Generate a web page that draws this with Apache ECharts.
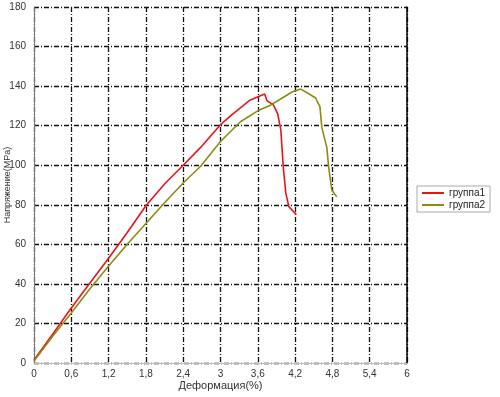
<!DOCTYPE html>
<html>
<head>
<meta charset="utf-8">
<script src="https://cdn.jsdelivr.net/npm/echarts@6/dist/echarts.min.js"></script>
<style>
  html, body { margin: 0; padding: 0; background: #fff; }
  #chart { width: 500px; height: 397px; }
</style>
</head>
<body>
<div id="chart"></div>
<script>
// данные
const seriesNames = ['группа1', 'группа2'];
const xTickLabels = ['0', '0,6', '1,2', '1,8', '2,4', '3', '3,6', '4,2', '4,8', '5,4', '6'];

const group1 = [
  [0, 1.5], [0.3, 14.5], [0.6, 27.8], [0.9, 40.5], [1.2, 53], [1.5, 66], [1.8, 79.5],
  [2.1, 90.5], [2.4, 100], [2.68, 109], [3.0, 120.5], [3.2, 126], [3.48, 133], [3.71, 136],
  [3.75, 132.5], [3.85, 130.5], [3.92, 126], [3.97, 118], [4.01, 99], [4.05, 86],
  [4.1, 79], [4.22, 75]
];
const group2 = [
  [0, 1], [0.3, 13.5], [0.6, 25.3], [0.9, 37.5], [1.2, 49], [1.5, 60], [1.8, 70.5],
  [2.1, 81], [2.4, 91], [2.68, 99.5], [3.0, 112], [3.32, 122], [3.6, 127.5], [3.81, 130.5],
  [4.02, 134.5], [4.15, 137], [4.29, 138.5], [4.4, 136.5], [4.53, 134], [4.6, 129.5],
  [4.63, 119], [4.71, 109], [4.74, 99], [4.79, 87.5], [4.87, 84]
];

const colors = ['#e8141c', '#8c8c10'];
const FontColor = '#333';
const gridLine = { show: true, lineStyle: { color: '#111', type: [5, 2, 1, 2], width: 1.3 } };

const myChart = echarts.init(document.getElementById('chart'));

const option = {
  animation: false,
  textStyle: { fontFamily: 'Liberation Sans, Arial, sans-serif' },
  grid: { left: 34, right: 93, top: 7, bottom: 34, containLabel: false, outerBoundsMode: 'none' },
  legend: {
    left: 417,
    top: 186,
    orient: 'vertical',
    icon: 'rect',
    itemWidth: 22,
    itemHeight: 2,
    itemGap: 2,
    padding: [2, 5, 2, 5],
    backgroundColor: '#fff',
    borderColor: '#aaa',
    borderWidth: 1,
    textStyle: { color: '#222', fontSize: 10 },
    data: seriesNames
  },
  xAxis: {
    type: 'value',
    min: 0,
    max: 6,
    interval: 0.6,
    name: 'Деформация(%)',
    nameLocation: 'middle',
    nameGap: 17,
    nameMoveOverlap: false,
    nameTextStyle: { color: FontColor, fontSize: 11 },
    axisLine: { show: true, lineStyle: { color: '#bbb', width: 1 } },
    axisTick: { show: false },
    axisLabel: {
      color: FontColor,
      fontSize: 10,
      margin: 6,
      formatter: (v) => xTickLabels[Math.round(v / 0.6)]
    },
    splitLine: gridLine
  },
  yAxis: [
    {
      type: 'value',
      min: 0,
      max: 180,
      interval: 20,
      name: 'Напряжение(МPа)',
      nameLocation: 'middle',
      nameGap: 22,
      nameMoveOverlap: false,
      nameTextStyle: { color: FontColor, fontSize: 9 },
      axisLine: { show: true, lineStyle: { color: '#777', width: 1 } },
      axisTick: { show: false },
      axisLabel: { color: FontColor, fontSize: 10, margin: 8 },
      splitLine: gridLine
    },
    {
      type: 'value',
      min: 0,
      max: 180,
      interval: 20,
      position: 'right',
      axisLine: { show: true, lineStyle: { color: '#000', width: 1.5 } },
      axisTick: { show: false },
      axisLabel: { show: false },
      splitLine: { show: false }
    }
  ],
  series: [group1, group2].map((data, i) => ({
    name: seriesNames[i],
    type: 'line',
    data: data,
    showSymbol: false,
    symbol: 'none',
    color: colors[i],
    lineStyle: { width: 1.6, color: colors[i] }
  }))
};

myChart.setOption(option);
</script>
</body>
</html>
